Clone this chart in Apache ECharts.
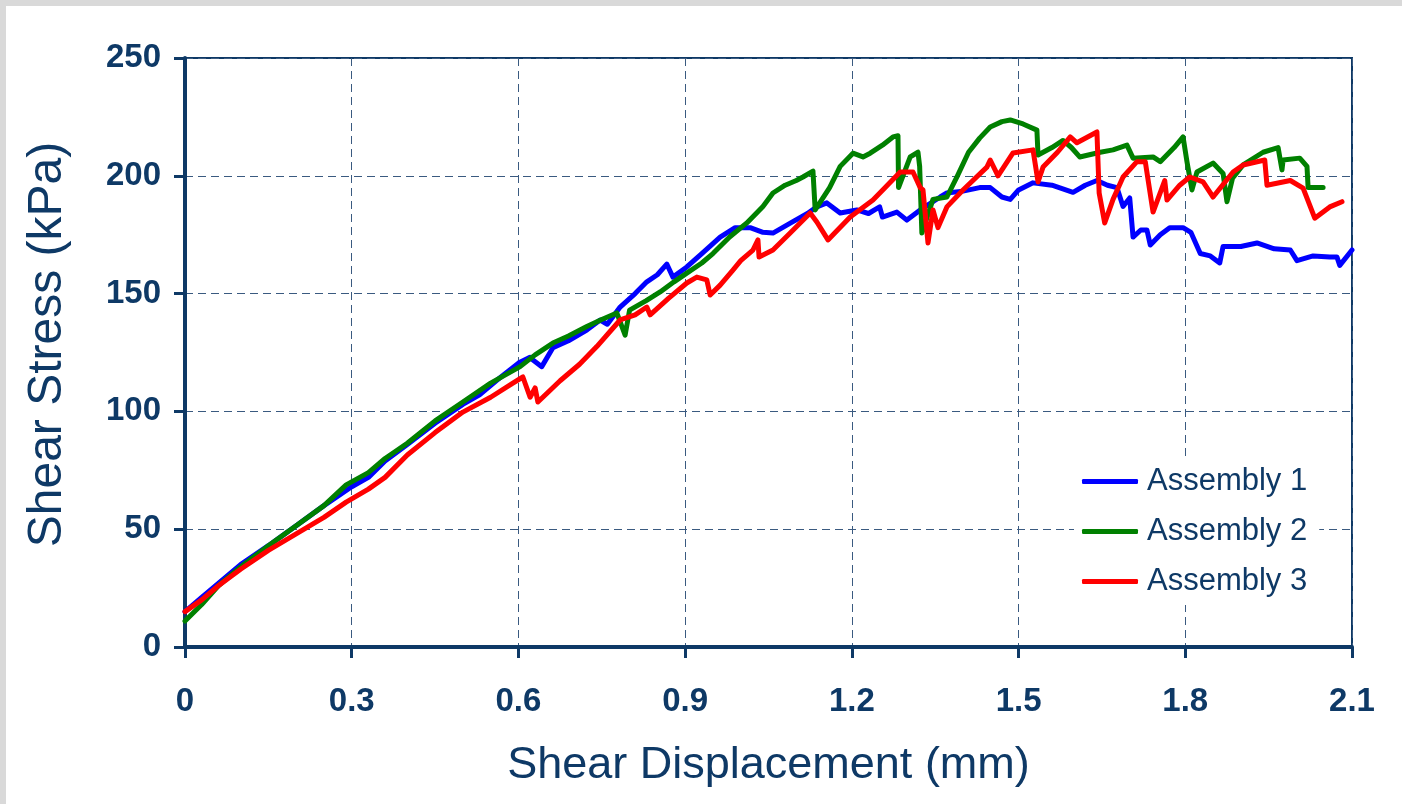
<!DOCTYPE html>
<html>
<head>
<meta charset="utf-8">
<script src="https://cdn.jsdelivr.net/npm/echarts@6/dist/echarts.min.js"></script>
<style>
  html, body { margin: 0; padding: 0; background: #d9d9d9; width: 1402px; height: 804px; overflow: hidden; }
  #chart { position: absolute; left: 6px; top: 6px; width: 1396px; height: 798px; background: #ffffff; }
</style>
</head>
<body>
<div id="chart"></div>
<script>
// ---- data ----
const xTicks = { min: 0, max: 2.1, interval: 0.3 };
const yTicks = { min: 0, max: 250, interval: 50 };
const seriesNames = ['Assembly 1', 'Assembly 2', 'Assembly 3'];

const assembly1 = [
  [0,15],[0.03,21],[0.06,27],[0.1,35],[0.15,43],[0.2,51.5],[0.25,60],[0.3,68],[0.33,72],[0.36,79],
  [0.4,86],[0.45,95],[0.5,103],[0.53,107],[0.56,113],[0.6,120.5],[0.621,123],[0.625,122],[0.642,119],
  [0.662,127],[0.69,130],[0.723,134.5],[0.747,138.8],[0.76,137],[0.783,144.3],[0.81,150],[0.831,155],
  [0.85,158],[0.867,162.5],[0.872,160],[0.878,157],[0.903,161.3],[0.93,167],[0.963,174],[0.99,178],
  [1.017,178],[1.04,176],[1.058,175.7],[1.09,180],[1.12,184],[1.137,186.8],[1.155,188.5],[1.179,184.2],
  [1.209,185.5],[1.23,184],[1.25,186.8],[1.255,182.5],[1.281,184.6],[1.299,181.2],[1.323,185.5],
  [1.359,191],[1.371,192.7],[1.40,193.5],[1.43,195],[1.449,195],[1.47,191],[1.485,190],[1.50,194],
  [1.526,197],[1.56,196],[1.598,193],[1.62,196],[1.641,198],[1.66,196],[1.677,195],[1.688,187],
  [1.70,190.6],[1.706,174],[1.72,177],[1.731,177],[1.737,170.6],[1.755,175],[1.772,178],[1.796,178],
  [1.81,176],[1.827,167],[1.845,166],[1.862,163],[1.868,170],[1.9,170],[1.929,171.5],[1.96,169],
  [1.989,168.5],[2.001,164],[2.03,166],[2.06,165.5],[2.073,165.5],[2.078,162],[2.1,168.5]
];

const assembly2 = [
  [0,11],[0.03,18],[0.06,26],[0.1,34],[0.15,43],[0.2,51.5],[0.25,60],[0.29,68.8],[0.33,74],[0.36,80],
  [0.4,86.5],[0.45,96],[0.5,104],[0.55,112],[0.603,119],[0.63,124],[0.662,129],[0.69,132],[0.723,136],
  [0.75,139],[0.777,141.8],[0.792,132.4],[0.80,143],[0.83,147],[0.855,150.7],[0.88,155],[0.903,158.7],
  [0.93,163],[0.95,167],[0.98,174],[1.011,180],[1.04,187],[1.058,192.7],[1.08,196],[1.1,198],
  [1.112,199.5],[1.13,202],[1.134,185.5],[1.16,195],[1.179,204],[1.202,209.6],[1.22,208],[1.233,209.6],
  [1.255,213],[1.274,216.5],[1.283,217],[1.284,195],[1.305,208],[1.319,210],[1.322,204],[1.326,175.7],
  [1.346,190],[1.371,191],[1.39,200],[1.41,210],[1.43,216],[1.449,220.7],[1.47,223],[1.485,223.7],
  [1.508,222],[1.533,219.4],[1.535,208.8],[1.56,212],[1.58,215],[1.595,212],[1.61,208],[1.647,210],
  [1.67,211],[1.695,213],[1.706,207.5],[1.742,208],[1.755,206],[1.78,212],[1.796,216.5],[1.803,206],
  [1.812,194],[1.821,201.6],[1.85,205.4],[1.868,201],[1.875,189],[1.885,199],[1.904,204.6],[1.94,210],
  [1.967,212],[1.974,202.5],[1.976,206.7],[2.006,207.5],[2.019,204],[2.021,195],[2.048,195]
];

const assembly3 = [
  [0,15],[0.03,20],[0.06,26],[0.1,33],[0.15,41],[0.2,48],[0.25,55],[0.29,61.5],[0.33,67],[0.36,72],
  [0.4,81.5],[0.45,91],[0.5,99.7],[0.55,106],[0.59,112],[0.608,114.6],[0.621,106],[0.63,110],[0.635,104],
  [0.675,113],[0.71,120],[0.741,127.5],[0.783,138.8],[0.81,141],[0.831,144.3],[0.837,141],[0.87,148],
  [0.903,154.5],[0.921,157],[0.939,155.8],[0.945,149.4],[0.963,153.6],[0.986,160],[1.0,164],[1.022,168.5],
  [1.031,172.8],[1.033,165.5],[1.058,168.5],[1.089,175.7],[1.125,184.2],[1.137,180.4],[1.157,172.8],
  [1.197,182.5],[1.238,189.7],[1.26,195],[1.287,201.6],[1.31,201.6],[1.323,195],[1.328,194],[1.337,171.5],
  [1.346,185.5],[1.355,178],[1.371,186.8],[1.40,194],[1.443,203.7],[1.449,206.7],[1.463,200],[1.49,209.7],
  [1.526,211],[1.535,197.4],[1.544,203.7],[1.57,210],[1.593,216.5],[1.605,214],[1.641,218.6],[1.645,192.7],
  [1.655,180],[1.67,190],[1.688,199.5],[1.713,206],[1.728,206],[1.742,184.6],[1.763,198],[1.767,189.7],
  [1.79,196],[1.808,199.5],[1.832,197.4],[1.85,191],[1.886,201.6],[1.904,204.6],[1.943,206.7],[1.947,196],
  [1.989,198],[2.012,194.8],[2.033,182],[2.06,186.8],[2.082,189]
];

const colors = ['#0000ff', '#008000', '#ff0000'];
const navy = '#0e3966';
const font = "'Liberation Sans', Arial, sans-serif";

const chart = echarts.init(document.getElementById('chart'), null, { renderer: 'canvas' });

const datasets = [assembly1, assembly2, assembly3];

chart.setOption({
  animation: false,
  backgroundColor: '#ffffff',
  grid: {
    left: 179, top: 52, right: 50, bottom: 157,
    show: true, borderColor: navy, borderWidth: 2, backgroundColor: 'transparent'
  },
  legend: {
    orient: 'vertical',
    left: 1068, top: 452,
    padding: [8, 12, 8, 8],
    backgroundColor: '#ffffff',
    itemWidth: 56, itemHeight: 5, itemGap: 19,
    icon: 'roundRect',
    textStyle: { color: navy, fontSize: 31, fontFamily: font, padding: [0, 0, 0, 4] },
    data: seriesNames
  },
  xAxis: {
    type: 'value',
    min: xTicks.min, max: xTicks.max, interval: xTicks.interval,
    name: 'Shear Displacement (mm)',
    nameLocation: 'middle',
    nameGap: 96,
    nameTextStyle: { color: navy, fontSize: 45, fontFamily: font },
    axisLine: { show: true, lineStyle: { color: navy, width: 4 } },
    axisTick: { show: true, inside: false, length: 11, lineStyle: { color: navy, width: 3 } },
    axisLabel: {
      color: navy, fontSize: 33, fontWeight: 'bold', fontFamily: font, margin: 38,
      showMinLabel: true, showMaxLabel: true,
      formatter: v => String(Math.round(v * 10) / 10)
    },
    splitLine: { show: true, lineStyle: { color: '#3a5a80', width: 1, type: [8, 5] } }
  },
  yAxis: {
    type: 'value',
    min: yTicks.min, max: yTicks.max, interval: yTicks.interval,
    name: 'Shear Stress (kPa)',
    nameLocation: 'middle',
    nameGap: 113,
    nameTextStyle: { color: navy, fontSize: 48, fontFamily: font, padding: [0, 0, 0, 16] },
    axisLine: { show: true, lineStyle: { color: navy, width: 4 } },
    axisTick: { show: true, inside: false, length: 11, lineStyle: { color: navy, width: 3 } },
    axisLabel: { color: navy, fontSize: 33, fontWeight: 'bold', fontFamily: font, margin: 24 },
    splitLine: { show: true, lineStyle: { color: '#3a5a80', width: 1, type: [8, 5] } }
  },
  series: datasets.map((d, i) => ({
    name: seriesNames[i],
    type: 'line',
    data: d,
    showSymbol: false,
    symbol: 'none',
    color: colors[i],
    lineStyle: { color: colors[i], width: 5, join: 'round', cap: 'round' },
    clip: true
  }))
});
</script>
</body>
</html>
